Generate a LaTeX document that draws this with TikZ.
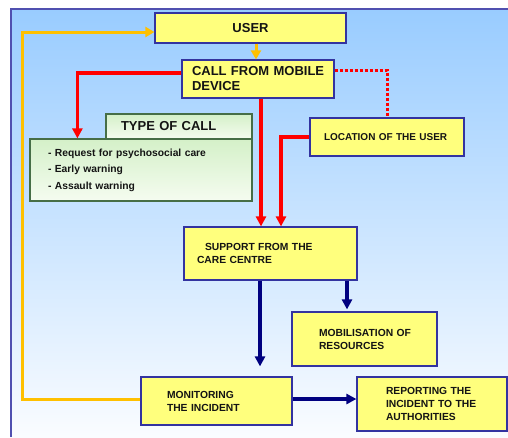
\documentclass[tikz,border=0pt]{standalone}
\usepackage{fontspec}
\setmainfont{Liberation Sans}
\usetikzlibrary{arrows.meta}
\definecolor{bgtop}{RGB}{153,204,255}
\definecolor{bgbot}{RGB}{250,252,255}
\definecolor{framecol}{RGB}{80,80,176}
\definecolor{boxline}{RGB}{51,51,160}
\definecolor{boxfill}{RGB}{255,255,125}
\definecolor{grline}{RGB}{70,110,70}
\definecolor{grtop}{RGB}{212,240,200}
\definecolor{grbot}{RGB}{245,252,240}
\definecolor{redc}{RGB}{255,0,0}
\definecolor{navyc}{RGB}{0,0,128}
\definecolor{yelc}{RGB}{255,192,0}
\definecolor{txt}{RGB}{20,20,20}
\tikzset{
  ybox/.style={draw=boxline, line width=1.2pt, fill=boxfill, text=txt, font=\bfseries,
    inner ysep=0pt, align=left},
  gbox/.style={draw=grline, line width=1.2pt, top color=grtop, bottom color=grbot,
    text=txt, font=\bfseries, inner ysep=0pt, align=left},
  redline/.style={draw=redc, line width=3.5pt},
  redarrow/.style={redline, -{Triangle[length=10pt,width=10pt]}},
  navyarrow/.style={draw=navyc, line width=3.5pt, -{Triangle[length=10pt,width=10pt]}},
  yelarrow/.style={draw=yelc, line width=3pt, -{Triangle[length=9pt,width=10pt]}},
}
\begin{document}
\begin{tikzpicture}[x=1pt,y=-1pt]
\useasboundingbox (0,0) rectangle (508,437);
\shade[top color=bgtop, bottom color=bgbot] (11,9) rectangle (508,437);
\draw[framecol, line width=1.6pt] (11,437) -- (11,9) -- (508,9);
\coordinate (yc) at (22,0);

% boxes
\node[ybox, minimum width=191pt, minimum height=30pt, align=center,
  font=\bfseries\fontsize{13}{15}\selectfont] (user) at (250.5,28) {USER};
\node[ybox, minimum width=152pt, minimum height=38pt, inner xsep=10pt, text width=132pt,
  font=\bfseries\fontsize{13}{15}\selectfont] (call) at (258,79) {\mbox{CALL FROM MOBILE}\\DEVICE};
\node[gbox, minimum width=146pt, minimum height=25pt, inner xsep=15pt, text width=116pt,
  font=\bfseries\fontsize{13}{15}\selectfont] (tab) at (179,126.5) {\mbox{TYPE OF CALL}};
\node[gbox, minimum width=222pt, minimum height=62pt, inner xsep=18pt, text width=186pt,
  font=\bfseries\fontsize{10.3}{16.5}\selectfont] (body) at (141,170)
  {- Request for psychosocial care\\- Early warning\\- Assault warning};
\node[ybox, minimum width=154pt, minimum height=38pt, inner xsep=14pt, text width=126pt,
  font=\bfseries\fontsize{10}{13}\selectfont] (loc) at (387,137) {\mbox{LOCATION OF THE USER}};
\node[ybox, minimum width=173pt, minimum height=53pt, inner xsep=13pt, text width=147pt,
  font=\bfseries\fontsize{10.3}{13}\selectfont] (sup) at (270.5,253.5)
  {\hspace*{8pt}\mbox{SUPPORT FROM THE}\\CARE CENTRE};
\node[ybox, minimum width=145pt, minimum height=54pt, inner xsep=27pt, text width=91pt,
  font=\bfseries\fontsize{10.3}{13}\selectfont] (mob) at (364.5,339)
  {\mbox{MOBILISATION OF}\\RESOURCES};
\node[ybox, minimum width=151pt, minimum height=48pt, inner xsep=26pt, text width=99pt,
  font=\bfseries\fontsize{10.3}{13}\selectfont] (mon) at (216.5,401)
  {MONITORING\\\mbox{THE INCIDENT}};
\node[ybox, minimum width=150pt, minimum height=54pt, inner xsep=29pt, text width=92pt,
  font=\bfseries\fontsize{10.3}{13}\selectfont] (rep) at (432,404)
  {\mbox{REPORTING THE}\\\mbox{INCIDENT TO THE}\\AUTHORITIES};

% connectors
\draw[yelarrow] ([xshift=-2pt]call.north |- user.south) -- ([xshift=-2pt]call.north);
\draw[yelarrow] ([yshift=2pt]mon.west) -- ([yshift=2pt]mon.west -| yc) |- ([yshift=-4pt]user.west);
\draw[redarrow] ([yshift=6pt]call.west) -| ([xshift=48pt]body.north west);
\draw[redarrow] ([xshift=3pt]call.south) -- ([xshift=3pt]call.south |- sup.north);
\draw[redline, dash pattern=on 3pt off 2pt, line width=3pt] ([yshift=9pt]call.east) -| (loc.north);
\draw[redarrow] (loc.west) -| ([xshift=10.5pt]sup.north);
\draw[navyarrow, shorten >=10pt] ([xshift=-10.5pt]sup.south) -- ([xshift=-10.5pt]sup.south |- mon.north);
\draw[navyarrow, shorten >=2pt] ([xshift=76.5pt]sup.south) -- ([xshift=76.5pt]sup.south |- mob.north);
\draw[navyarrow] ([yshift=2pt]mon.east) -- ([yshift=2pt]mon.east -| rep.west);
\end{tikzpicture}
\end{document}
